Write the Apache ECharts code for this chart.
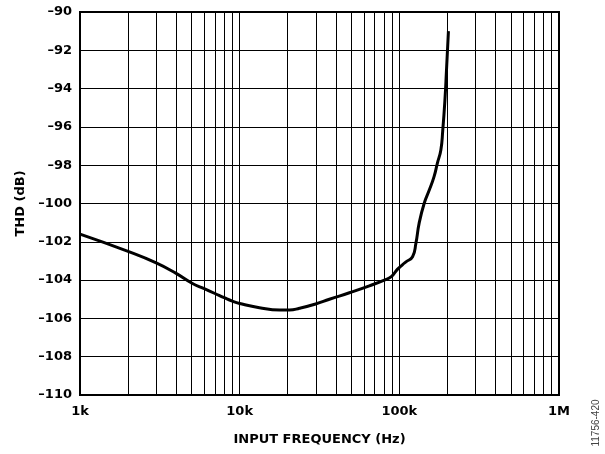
<!DOCTYPE html>
<html>
<head>
<meta charset="utf-8">
<script src="https://cdn.jsdelivr.net/npm/echarts@6/dist/echarts.min.js"></script>
<style>html,body{margin:0;padding:0;background:#fff}#c{width:605px;height:454px}</style>
</head>
<body>
<div id="c"></div>
<script>
// Input frequency (Hz) and THD (dB)
const freqHz = [1000, 2000, 3000, 4000, 5000, 6000, 7000, 8000, 9000, 10000, 13300, 17800, 20500, 23700, 29900, 36500, 48700, 64900, 80600, 89100, 97200, 104500, 110000, 121000, 127000, 133000, 143000, 154000, 165000, 173000, 182000, 187000, 193000, 197500, 203000];
const thdDb = [-101.6, -102.5, -103.1, -103.65, -104.15, -104.45, -104.7, -104.92, -105.1, -105.22, -105.44, -105.56, -105.56, -105.47, -105.25, -105.0, -104.66, -104.3, -104.0, -103.82, -103.44, -103.2, -103.05, -102.78, -102.08, -101.04, -100.0, -99.3, -98.6, -97.9, -97.2, -96.2, -94.6, -93.0, -91.0];
// Minor log grid positions (2..9 in each decade)
const minorGrid = [2000,3000,4000,5000,6000,7000,8000,9000,20000,30000,40000,50000,60000,70000,80000,90000,200000,300000,400000,500000,600000,700000,800000,900000];
const xTickLabels = {1000: '1k', 10000: '10k', 100000: '100k', 1000000: '1M'};
const yMin = -110, yMax = -90, yStep = 2;

const font = '"DejaVu Sans", "Liberation Sans", Arial, sans-serif';
const chart = echarts.init(document.getElementById('c'), null, {renderer: 'canvas'});
chart.setOption({
  animation: false,
  backgroundColor: '#fff',
  grid: {left: 80, right: 46, top: 12, bottom: 59, show: true, borderColor: '#000', borderWidth: 2, backgroundColor: 'transparent'},
  xAxis: {
    type: 'log', logBase: 10, min: 1000, max: 1000000,
    name: 'INPUT FREQUENCY (Hz)', nameLocation: 'middle', nameGap: 38,
    nameTextStyle: {fontFamily: font, fontWeight: 'bold', fontSize: 13, color: '#000'},
    axisLine: {show: true, lineStyle: {color: '#000', width: 2}},
    axisTick: {show: false},
    axisLabel: {margin: 10, fontFamily: font, fontWeight: 'bold', fontSize: 13, color: '#000',
      formatter: v => xTickLabels[Math.round(v)] || ''},
    splitLine: {show: true, lineStyle: {color: '#000', width: 1}},
    minorTick: {show: false}, minorSplitLine: {show: false}
  },
  yAxis: {
    type: 'value', min: yMin, max: yMax, interval: yStep,
    name: 'THD (dB)', nameLocation: 'middle', nameGap: 52, nameRotate: 90,
    nameTextStyle: {fontFamily: font, fontWeight: 'bold', fontSize: 13, color: '#000'},
    axisLine: {show: true, lineStyle: {color: '#000', width: 2}},
    axisTick: {show: false},
    axisLabel: {margin: 8, fontFamily: font, fontWeight: 'bold', fontSize: 13, color: '#000',
      formatter: v => String(v).replace('-', '\u2013')},
    splitLine: {show: true, lineStyle: {color: '#000', width: 1}}
  },
  series: [
    {
      type: 'line', data: [], z: 1, silent: true,
      markLine: {
        silent: true, symbol: ['none', 'none'], label: {show: false},
        lineStyle: {color: '#000', width: 1, type: 'solid'},
        data: minorGrid.map(v => ({xAxis: v}))
      }
    },
    {
      type: 'line', z: 5,
      data: freqHz.map((f, i) => [f, thdDb[i]]),
      smooth: 0.5, showSymbol: false,
      lineStyle: {color: '#000', width: 3}
    }
  ],
  graphic: [{
    type: 'text', x: 596, y: 423, rotation: Math.PI / 2,
    style: {text: '11756-420', fill: '#444', font: '10px "Liberation Sans", Arial, sans-serif', textAlign: 'center', textVerticalAlign: 'middle'}
  }]
});
</script>
</body>
</html>
